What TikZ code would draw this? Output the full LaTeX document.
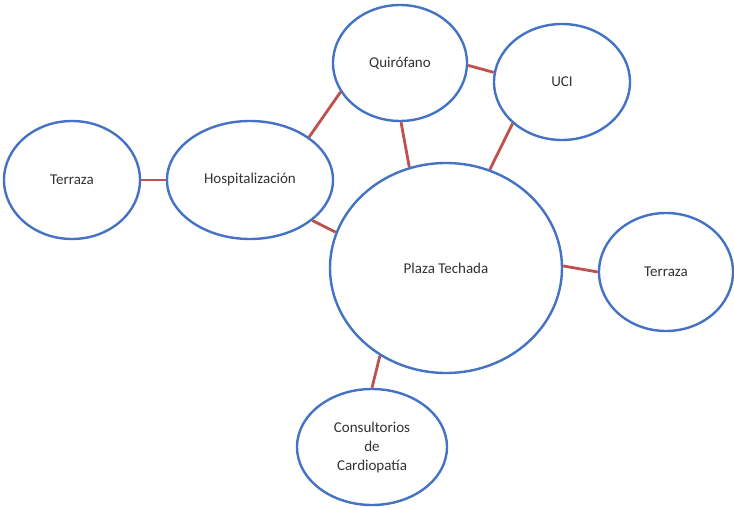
\documentclass[tikz,border=0pt]{standalone}
\usepackage{fontspec}
\setmainfont{Carlito}
\usepackage{xcolor}
\usetikzlibrary{shapes}
\definecolor{zoneblue}{RGB}{68,114,196}
\definecolor{linkred}{RGB}{192,80,77}

\begin{document}
\begin{tikzpicture}[x=1pt, y=-1pt]
\tikzset{zone/.style={ellipse, draw=zoneblue, line width=2.4pt, fill=white, inner sep=0pt,
        font=\fontsize{15}{19}\selectfont, text=black!80, align=center}}
\tikzset{link/.style={draw=linkred, line width=2.8pt}}
    \useasboundingbox (0,0) rectangle (734,508);

    \node[zone, minimum width=136, minimum height=118] (TerrazaW) at (72,180) {Terraza};
    \node[zone, minimum width=166, minimum height=118] (Hosp) at (250,180) {Hospitalización};

    \node[zone, minimum width=134, minimum height=116] (Quir) at (400,63) {Quirófano};
    \node[zone, minimum width=136, minimum height=116] (UCI) at (562,82) {UCI};

    \node[zone, minimum width=232, minimum height=210] (Plaza) at (446,268) {Plaza Techada};
    \node[zone, minimum width=134, minimum height=118] (TerrazaE) at (666,272) {Terraza};

    \node[zone, minimum width=150, minimum height=116] (Consult) at (372,447) {Consultorios\\de\\Cardiopatía};
% % % % % % % % % % % % % % % % % % %
    \draw[link] (TerrazaW.east) -- (Hosp.west);
    \draw[link] (Hosp.36) -- (Quir.206);
    \draw[link] (Hosp.-33) -- (Plaza.162);
    \draw[link] (Quir.-2) -- (UCI.172);
    \draw[link] (Quir.-89) -- (Plaza.110);
    \draw[link] (UCI.220) -- (Plaza.66);
    \draw[link] (Plaza.1) -- (TerrazaE.west);
    \draw[link] (Plaza.233) -- (Consult.north);
\end{tikzpicture}
\end{document}
